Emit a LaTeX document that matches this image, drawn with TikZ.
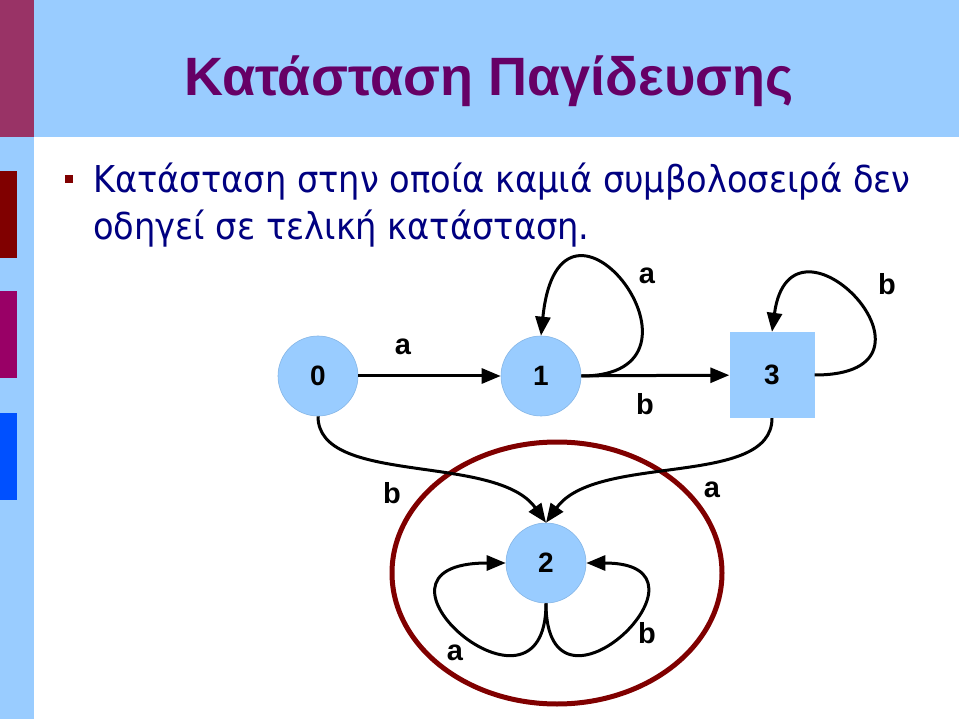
\documentclass[tikz,border=0pt]{standalone}
\usepackage{fontspec}
\setmainfont{Liberation Sans}
\newfontfamily\bodyfont[FakeStretch=0.91]{DejaVu Sans}
\usetikzlibrary{arrows.meta}
\definecolor{stripblue}{HTML}{99CCFF}
\definecolor{cornerpurple}{HTML}{993366}
\definecolor{maroonbar}{HTML}{800000}
\definecolor{magbar}{HTML}{990066}
\definecolor{bluebar}{HTML}{0050FF}
\definecolor{titlecol}{HTML}{660066}
\definecolor{bodycol}{HTML}{000080}
\definecolor{nodefill}{HTML}{99CCFF}
\definecolor{nodeline}{HTML}{86B6E6}
\tikzset{
  statecirc/.style={circle, fill=nodefill, draw=nodeline, line width=0.6pt, minimum size=80pt, inner sep=0pt, font=\fontsize{28}{30}\selectfont\bfseries},
  statesq/.style={rectangle, fill=nodefill, minimum width=85pt, minimum height=86pt, inner sep=0pt, font=\fontsize{28}{30}\selectfont\bfseries},
  edge/.style={line width=3pt, -{Triangle[length=19pt,width=15pt]}},
  lbl/.style={inner sep=0pt, font=\fontsize{29}{30}\selectfont\bfseries},
}
\begin{document}
\begin{tikzpicture}[x=1pt,y=-1pt]
\useasboundingbox (0,0) rectangle (959,719);
% background decorations
\fill[stripblue] (0,0) rectangle (34,719);
\fill[stripblue] (34,0) rectangle (959,137);
\fill[cornerpurple] (0,0) rectangle (34,137);
\fill[maroonbar] (0,171) rectangle (17,258);
\fill[magbar] (0,291) rectangle (17,378);
\fill[bluebar] (0,413) rectangle (17,500);
% title
\node[anchor=base, inner sep=0pt, text=titlecol, font=\fontsize{54}{58}\selectfont\bfseries] (title) at (489,96) {Κατάσταση Παγίδευσης};
% bullet and body
\fill[maroonbar] (65,175) rectangle (73,183);
\node[anchor=base west, inner sep=0pt, text=bodycol, font=\bodyfont\fontsize{37}{40}\selectfont] (line1) at (93,193) {Κατάσταση στην οποία καμιά συμβολοσειρά δεν};
\node[anchor=base west, inner sep=0pt, text=bodycol, font=\bodyfont\fontsize{37}{40}\selectfont] (line2) at (93,240) {οδηγεί σε τελική κατάσταση.};
% trap ellipse
\draw[maroonbar, line width=5pt] (557,573) ellipse [x radius=165pt, y radius=131pt];
% states
\node[statecirc] (n0) at (318,376) {0};
\node[statecirc] (n1) at (541,376) {1};
\node[statesq] (n3) at (772,375) {3};
\node[statecirc] (n2) at (546,563) {2};
% transitions
\draw[edge] (n0) -- (n1);
\draw[edge] (n1) -- (n3);
\draw[edge] (n1.east) .. controls +(150,0) and +(19,-186) .. (n1.north);
\draw[edge] (n3.east) .. controls +(150,0) and +(19,-140) .. (n3.north);
\draw[edge] (n0.south) .. controls +(0,70) and +(-50,-70) .. (n2.north);
\draw[edge] (n3.south) .. controls +(0,70) and +(50,-70) .. (n2.north);
\draw[edge] (n2.south) .. controls +(0,138) and +(-165,0) .. (n2.west);
\draw[edge] (n2.south) .. controls +(0,138) and +(145,0) .. (n2.east);
% labels
\node[lbl] (la01) at (403,347) {a};
\node[lbl] (lb13) at (645,404) {b};
\node[lbl] (la11) at (647,276) {a};
\node[lbl] (lb33) at (887,284) {b};
\node[lbl] (lb02) at (392,493) {b};
\node[lbl] (la32) at (712,490) {a};
\node[lbl] (la22) at (455,653) {a};
\node[lbl] (lb22) at (647,633) {b};
\end{tikzpicture}
\end{document}
